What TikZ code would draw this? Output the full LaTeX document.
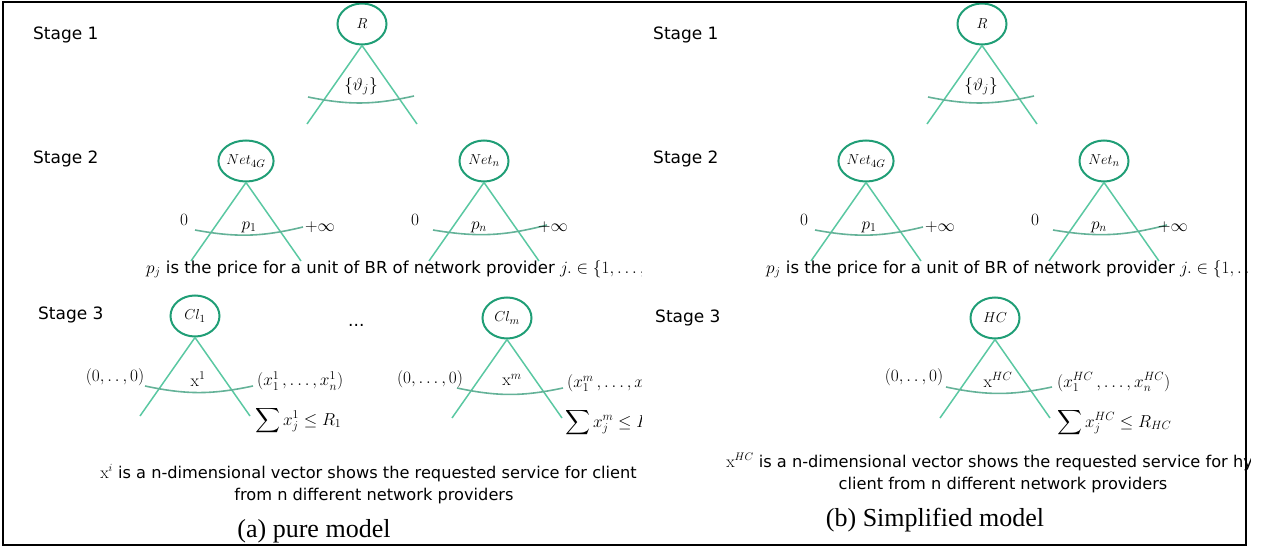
\documentclass[tikz,border=0pt]{standalone}
\usepackage{amsmath}
\usepackage[no-math]{fontspec}
\setmainfont{DejaVu Sans}
\newfontfamily\capfont{Liberation Serif}
\usetikzlibrary{shapes.geometric,calc}
\definecolor{nodegreen}{RGB}{32,158,118}
\definecolor{edgegreen}{RGB}{90,200,162}
\definecolor{arcgreen}{RGB}{100,178,152}
\begin{document}
\begin{tikzpicture}
      [x=1pt,y=-1pt,
      player/.style={ellipse,draw=nodegreen,line width=2pt,minimum width=49pt,minimum height=41pt,inner sep=0pt,font=\fontsize{15}{15}\selectfont},
      level distance=100pt,
      sibling distance=110pt,
      edge from parent/.style={draw=edgegreen,line width=1.5pt},
      edge from parent path={(\tikzparentnode.south) -- (\tikzchildnode)},
      choice/.style={draw=arcgreen,line width=1.6pt},
      stagetxt/.style={anchor=west,inner sep=0pt,font=\fontsize{17}{20}\selectfont},
      pricetxt/.style={anchor=west,inner sep=0pt,font=\fontsize{16.5}{20}\selectfont},
      mathtxt/.style={inner sep=0pt,font=\fontsize{17}{20}\selectfont},
      note/.style={inner sep=0pt,align=center,font=\fontsize{16.2}{22}\selectfont},
      subcap/.style={inner sep=0pt,font=\capfont\fontsize{26}{30}\selectfont},
      ]
      \useasboundingbox (0,0) rectangle (1267,548);
      % stages 1 and 2 are the same in both panels
      \foreach \dx/\xa/\xb/\side in {0/0/641/a,620/641/1250/b}{
      \begin{scope}
        \clip (\xa,0) rectangle (\xb,548);
        \node[stagetxt] (st1-\side) at (33+\dx,35) {Stage 1};
        \node[player] (R-\side) at (362+\dx,24) {$R$}
          child {coordinate (R-\side-l)}
          child {coordinate (R-\side-r)};
        \coordinate (R-\side-a) at ($(R-\side)+(-54,73)$);
        \coordinate (R-\side-b) at ($(R-\side)+(52,72)$);
        \draw[choice] (R-\side-a) to[bend right=12] (R-\side-b);
        \node[mathtxt] (th-\side) at (361+\dx,86) {$\{\vartheta_j\}$};
        \node[stagetxt] (st2-\side) at (33+\dx,159) {Stage 2};
        \node[player] (Na-\side) at (246+\dx,161) {$Net_{4G}$}
          child {coordinate (Na-\side-l)}
          child {coordinate (Na-\side-r)};
        \coordinate (Na-\side-a) at ($(Na-\side)+(-51,69)$);
        \coordinate (Na-\side-b) at ($(Na-\side)+(57,66)$);
        \draw[choice] (Na-\side-a) to[bend right=12] (Na-\side-b);
        \node[mathtxt] (za-\side) at (184+\dx,220) {$0$};
        \node[mathtxt] (pa-\side) at (249+\dx,227) {$p_1$};
        \node[mathtxt] (ia-\side) at (320+\dx,227) {$+\infty$};
        \node[player] (Nn-\side) at (484+\dx,161) {$Net_n$}
          child {coordinate (Nn-\side-l)}
          child {coordinate (Nn-\side-r)};
        \coordinate (Nn-\side-a) at ($(Nn-\side)+(-51,69)$);
        \coordinate (Nn-\side-b) at ($(Nn-\side)+(63,64)$);
        \draw[choice] (Nn-\side-a) to[bend right=12] (Nn-\side-b);
        \node[mathtxt] (zn-\side) at (415+\dx,220) {$0$};
        \node[mathtxt] (pn-\side) at (479+\dx,227) {$p_n$};
        \node[mathtxt] (in-\side) at (553+\dx,227) {$+\infty$};
        \node[pricetxt] (price-\side) at (146+\dx,269) {$p_j$ is the price for a unit of BR of network provider $j.\in\{1,\dots,n\}$};
      \end{scope}
      }
      % stage 3, pure model
      \begin{scope}
        \clip (0,0) rectangle (641,548);
        \node[stagetxt] (st3-a) at (38,315) {Stage 3};
        \node[player] (C1) at (195,316) {$Cl_1$}
          child {coordinate (C1-l)}
          child {coordinate (C1-r)};
        \coordinate (C1-a) at ($(C1)+(-50,70)$);
        \coordinate (C1-b) at ($(C1)+(58,70)$);
        \draw[choice] (C1-a) to[bend right=12] (C1-b);
        \node[mathtxt] (o1) at (115,377) {$(0,\ldotp\ldotp,0)$};
        \node[mathtxt] (x1) at (198,379) {$\mathrm{x}^1$};
        \node[mathtxt,anchor=west] (v1) at (257,381) {$(x_1^1\,,\dots,x_n^1)$};
        \node[mathtxt,anchor=west] (b1) at (255,421) {$\displaystyle\sum x_j^1\le R_1$};
        \node[stagetxt] (more) at (348,325) {...};
        \node[player] (Cm) at (507,318) {$Cl_m$}
          child {coordinate (Cm-l)}
          child {coordinate (Cm-r)};
        \coordinate (Cm-a) at ($(Cm)+(-50,70)$);
        \coordinate (Cm-b) at ($(Cm)+(56,70)$);
        \draw[choice] (Cm-a) to[bend right=12] (Cm-b);
        \node[mathtxt] (om) at (430,379) {$(0,\dots,0)$};
        \node[mathtxt] (xm) at (512,380) {$\mathrm{x}^m$};
        \node[mathtxt,anchor=west] (vm) at (567,383) {$(x_1^m\,,\dots,x_n^m)$};
        \node[mathtxt,anchor=west] (bm) at (565,423) {$\displaystyle\sum x_j^m\le R_m$};
        \node[note] (xi) at (374,484) {$\mathrm{x}^i$ is a n-dimensional vector shows the requested service for client $i$\\from n different network providers};
      \end{scope}
      % stage 3, simplified model
      \begin{scope}
        \clip (641,0) rectangle (1250,548);
        \node[stagetxt] (st3-b) at (655,318) {Stage 3};
        \node[player] (HC) at (995,318) {$HC$}
          child {coordinate (HC-l)}
          child {coordinate (HC-r)};
        \coordinate (HC-a) at ($(HC)+(-49,69)$);
        \coordinate (HC-b) at ($(HC)+(57,69)$);
        \draw[choice] (HC-a) to[bend right=12] (HC-b);
        \node[mathtxt] (oh) at (914,377) {$(0,\ldotp\ldotp,0)$};
        \node[mathtxt] (xh) at (998,380) {$\mathrm{x}^{HC}$};
        \node[mathtxt,anchor=west] (vh) at (1057,382) {$(x_1^{HC}\,,\dots,x_n^{HC})$};
        \node[mathtxt,anchor=west] (bh) at (1057,423) {$\displaystyle\sum x_j^{HC}\le R_{HC}$};
        \node[note] (xhc) at (1003,473) {$\mathrm{x}^{HC}$ is a n-dimensional vector shows the requested service for hyper\\client from n different network providers};
      \end{scope}
      \node[subcap] (cap-a) at (314,531) {(a) pure model};
      \node[subcap] (cap-b) at (935,520) {(b) Simplified model};
      \draw[line width=2pt] (3,2) rectangle (1246,545);
\end{tikzpicture}
\end{document}
